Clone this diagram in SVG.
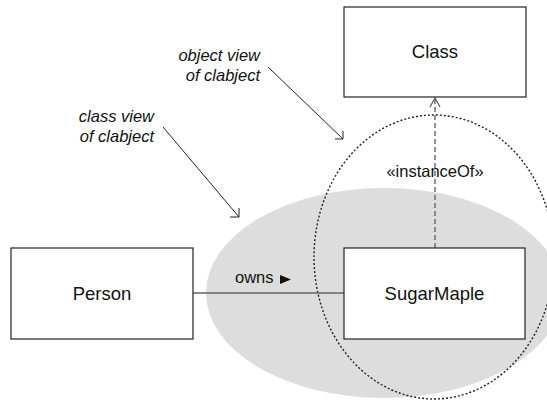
<svg xmlns="http://www.w3.org/2000/svg" width="547" height="400" viewBox="0 0 547 400">
  <style>
    .box { fill: #ffffff; stroke: #222222; stroke-width: 1.2; }
    .lbl { font-family: "Liberation Sans", Arial, sans-serif; font-size: 18.5px; fill: #111111; text-anchor: middle; }
    .small { font-family: "Liberation Sans", Arial, sans-serif; font-size: 16.5px; fill: #111111; }
    .note { font-family: "Liberation Sans", Arial, sans-serif; font-size: 16.5px; font-style: italic; fill: #111111; text-anchor: end; }
    .pointer { fill: none; stroke: #222222; stroke-width: 1; }
  </style>
  <defs>
    <marker id="openHead" viewBox="0 0 12 12" refX="10" refY="6" markerWidth="12" markerHeight="12" markerUnits="userSpaceOnUse" orient="auto">
      <polyline points="1,1 10,6 1,11" fill="none" stroke="#555555" stroke-width="1.2"/>
    </marker>
  </defs>

  <rect width="547" height="400" fill="#ffffff"/>

  <!-- class view region -->
  <ellipse id="classView" cx="384" cy="293" rx="178" ry="105" fill="#dddddd"/>

  <!-- object view region -->
  <ellipse id="objectView" cx="434" cy="257" rx="120" ry="142" fill="none" stroke="#222222" stroke-width="1.4" stroke-dasharray="2,2"/>

  <g id="connectors">
    <!-- owns association -->
    <line x1="193" y1="293" x2="344" y2="293" stroke="#666666" stroke-width="1.4"/>
    <text class="small" x="235" y="283">owns</text>
    <polygon points="280,275 291,279.5 280,284" fill="#111111"/>
    <!-- instanceOf dependency -->
    <line x1="435" y1="248" x2="435" y2="98" stroke="#666666" stroke-width="1.4" stroke-dasharray="5,3" marker-end="url(#openHead)"/>
    <text class="small" x="435" y="177" text-anchor="middle">«instanceOf»</text>
    <!-- annotation pointers -->
    <path class="pointer" d="M163,127 L239,217 M230,217 L239,217 L239,208"/>
    <path class="pointer" d="M268,67 L343,139 M335,139 L343,139 L343,131"/>
  </g>

  <g id="notes">
    <text class="note" x="154" y="122">class view</text>
    <text class="note" x="154" y="142">of clabject</text>
    <text class="note" x="260" y="61">object view</text>
    <text class="note" x="260" y="81">of clabject</text>
  </g>

  <g id="class">
    <rect class="box" x="344" y="7" width="182" height="90"/>
    <text class="lbl" x="435" y="58">Class</text>
  </g>

  <g id="person">
    <rect class="box" x="11" y="248" width="182" height="91"/>
    <text class="lbl" x="102" y="300">Person</text>
  </g>

  <g id="sugarMaple">
    <rect class="box" x="344" y="248" width="181" height="91"/>
    <text class="lbl" x="434.5" y="300">SugarMaple</text>
  </g>
</svg>
